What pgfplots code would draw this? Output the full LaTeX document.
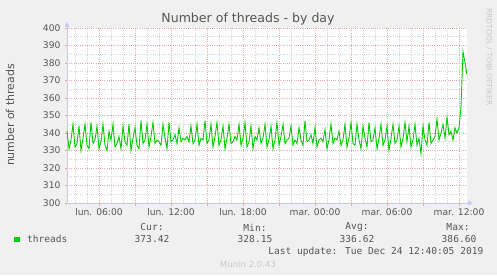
\documentclass[border=0pt]{standalone}
\usepackage{pgfplots}
\pgfplotsset{compat=1.18}
\usepackage{pgfplotstable}
\usetikzlibrary{arrows.meta}
\usepackage{fontspec}
\setmainfont{DejaVu Sans}
\newfontfamily\mono{DejaVu Sans Mono}
\definecolor{bgray}{HTML}{F0F0F0}
\definecolor{txtgray}{HTML}{555555}
\definecolor{majgrid}{HTML}{E8A8A8}
\definecolor{mingrid}{HTML}{D4D4D4}
\definecolor{axisblue}{HTML}{C8C8F4}
\definecolor{linegreen}{HTML}{00CC00}
\definecolor{faint}{HTML}{C8C8C8}

\pgfplotstableread{
v
341
331
336
345
332
334
344
330
337
345
333
331
346
334
336
344
331
335
345
333
330
341
336
345
332
334
338
331
344
335
333
345
330
337
343
333
331
347
334
336
345
332
338
346
334
336
335
333
345
337
331
346
335
336
339
334
343
335
337
336
338
335
344
334
336
345
333
337
336
347
334
336
345
332
338
346
333
336
344
331
337
345
334
335
338
336
345
333
337
346
332
335
344
331
338
336
343
334
337
345
332
336
344
331
336
346
333
338
345
334
336
337
344
333
336
334
343
336
333
347
335
336
339
334
343
332
336
337
335
342
331
336
345
334
337
336
341
333
336
345
332
337
346
334
333
345
336
331
344
337
332
346
335
336
343
331
337
345
333
336
344
330
337
345
334
336
344
332
337
346
335
344
332
336
345
333
337
328.15
344
336
333
346
334
336
338
348
336
340
345
337
349
339
341
336
343
340
343
355
386.6
380
373.42
}\threads

\begin{document}
\begin{tikzpicture}[x=1bp,y=1bp]
\fill[bgray] (0,0) rectangle (497,275);
\begin{axis}[
  at={(67bp,72bp)}, anchor=south west,
  scale only axis, width=400bp, height=175bp,
  xmin=3.3333, xmax=36.6667, ymin=300, ymax=400,
  axis background/.style={fill=white},
  axis x line*=bottom, axis y line*=left,
  axis line style={draw=axisblue, line width=0.8bp},
  x axis line style={-{Triangle[length=5bp,width=5bp]}, shorten >=-6bp},
  y axis line style={-{Triangle[length=5bp,width=5bp]}, shorten >=-6bp},
  xtick={6,9,...,36},
  xticklabels={lun. 06:00,,lun. 12:00,,lun. 18:00,,mar. 00:00,,mar. 06:00,,mar. 12:00},
  minor xtick={4,5,...,36},
  ytick={300,310,...,400},
  minor ytick={305,315,...,395},
  grid=both,
  major grid style={draw=majgrid, line width=0.7bp, dash pattern=on 1bp off 1.2bp},
  minor grid style={draw=mingrid, line width=0.7bp, dash pattern=on 1bp off 1.2bp},
  tick align=outside, tick pos=left,
  major tick length=2.5bp, minor tick length=0bp,
  major tick style={draw=majgrid, line width=0.8bp},
  tick label style={font=\fontsize{9.2}{11}\selectfont, text=txtgray},
  /pgf/number format/assume math mode=true,
  yticklabel style={xshift=-0.5bp},
  xticklabel style={yshift=0bp},
  clip=false,
]
\addplot[linegreen, line width=0.9bp] table[x expr=3.3333+\coordindex/6, y=v] {\threads};
\end{axis}
\node[font=\fontsize{12.6}{14}\selectfont, text=txtgray] at (248,256) {Number of threads - by day};
\node[rotate=90, font=\fontsize{11}{13}\selectfont, text=txtgray] at (10,160) {number of threads};
\node[rotate=-90, font=\fontsize{7.6}{9}\selectfont, text=faint] at (489,218) {RRDTOOL / TOBI OETIKER};
\fill[linegreen] (14,33) rectangle (19.5,38.5);
\begin{scope}[every node/.style={font=\mono\fontsize{9.6}{11}\selectfont, text=txtgray, inner sep=0pt}]
\node[anchor=west] at (27,36) {threads};
\node at (152,47.5) {Cur:};
\node at (255,47.5) {Min:};
\node at (357,47.5) {Avg:};
\node at (458,47.5) {Max:};
\node at (152,36) {373.42};
\node at (255,36) {328.15};
\node at (357,36) {336.62};
\node at (459,36) {386.60};
\node[anchor=east] at (483.5,23) {Last update: Tue Dec 24 12:40:05 2019};
\end{scope}
\node[font=\fontsize{8.6}{10}\selectfont, text=faint] at (248,11) {Munin 2.0.43};
\end{tikzpicture}
\end{document}
